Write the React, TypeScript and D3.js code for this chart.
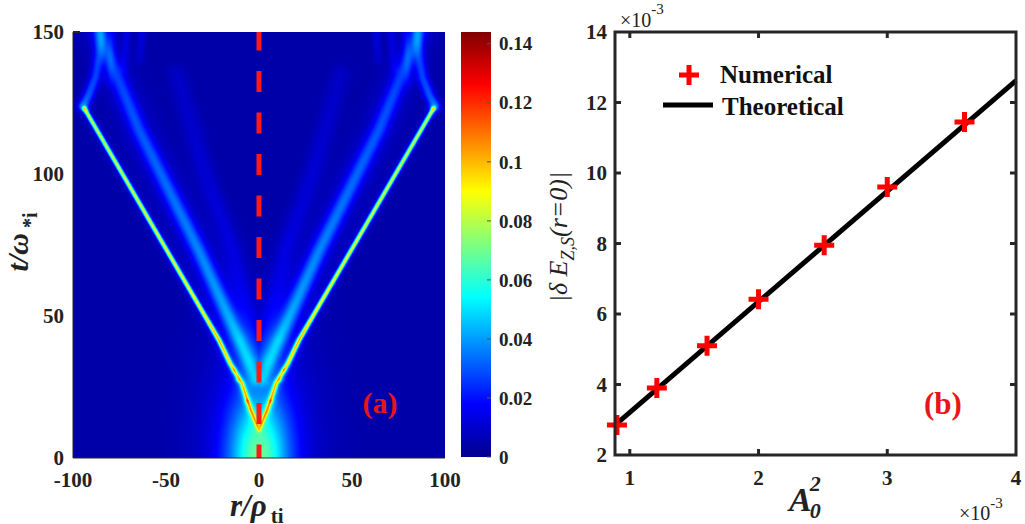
import React, { useMemo } from "react";
import * as d3 from "d3";

const W = 1025;
const H = 524;
const FONT = "'Liberation Serif', 'Times New Roman', serif";

// ---------- Panel (a) data ----------
const rTicks = [-100, -50, 0, 50, 100];
const tTicks = [0, 50, 100, 150];
const cbTicks = [0, 0.02, 0.04, 0.06, 0.08, 0.1, 0.12, 0.14];
const cbMax = 0.144;

// jet colormap stops
const jetPos = [0, 0.125, 0.375, 0.625, 0.875, 1];
const jetColors = ["#00008f", "#0000ff", "#00ffff", "#ffff00", "#ff0000", "#800000"];

// main ridge (right half, mirrored for left) : r, t, amplitude
const ridgeR = [0, 4.5, 9.2, 15.5, 21.5, 93.8];
const ridgeT = [10, 17, 26.3, 33.3, 41.5, 123];
const ridgeAmp = [0.03, 0.05, 0.055, 0.062, 0.078, 0.07];

// thicker lower part of the ridge (halo)
const lowR = [0, 4.5, 9.2, 15.5, 21.5, 30];
const lowT = [10, 17, 26.3, 33.3, 41.5, 51];
const lowAmp = [0.005, 0.01, 0.012, 0.01, 0.005, 0.0];

// secondary (faint, wide) band
const band2R = [2, 10.7, 32.5, 64.5, 86];
const band2T = [28, 41.5, 73.2, 115.5, 150];
const band2Amp = [0.018, 0.028, 0.025, 0.02, 0.016];

// tertiary, very faint band
const band3R = [2, 14, 29, 44];
const band3T = [35, 73, 100, 135];
const band3Amp = [0.007, 0.008, 0.007, 0.005];

// plume after the ridge reaches the boundary
const plumeR = [94.5, 91.5, 88, 86, 85];
const plumeT = [124, 128, 134, 142, 150];
const plumeAmp = [0.03, 0.026, 0.022, 0.018, 0.016];

// faint streaks near the top
const streak1R = [79, 80.5];
const streak1T = [150, 132];
const streak2R = [71, 72.5];
const streak2T = [150, 137];
const streak3R = [63, 64];
const streak3T = [150, 140];
const streakAmp = [0.009, 0.005];

// bright spots (r, t, amp)
const spotR = [0, 6.5, 11.5, 13.5];
const spotT = [12, 20, 27.5, 31];
const spotAmp = [0.008, 0.014, 0.014, 0.012];

// centre glow at the bottom
const glowAmp = 0.05;
const glowSigR = 11;
const glowSigT = 16;
const glow2Amp = 0.016;
const glow2SigR = 20;
const glow2SigT = 30;

// ---------- Panel (b) data ----------
const aTicks = [1, 2, 3, 4];
const eTicks = [2, 4, 6, 8, 10, 12, 14];
const numA = [0.9, 1.21, 1.6, 2.0, 2.51, 3.0, 3.6];
const numE = [2.85, 3.9, 5.1, 6.42, 7.95, 9.6, 11.45];
const theoA = [0.885, 4];
const theoE = [2.85, 12.62];

// ---------- scales ----------
const xA = d3.scaleLinear().domain([-100, 100]).range([73, 445]);
const yA = d3.scaleLinear().domain([0, 150]).range([458, 32]);
const yCb = d3.scaleLinear().domain([0, cbMax]).range([457, 32]);
const xB = d3.scaleLinear().domain([0.885, 4]).range([615, 1016]);
const yB = d3.scaleLinear().domain([2, 14]).range([455, 32]);

const jet = d3
  .scaleLinear<string>()
  .domain(jetPos.map((p) => p * cbMax))
  .range(jetColors)
  .interpolate(d3.interpolateRgb)
  .clamp(true);

type Poly = { xs: number[]; ys: number[]; amps: number[]; sigma: number };

function mkPoly(R: number[], T: number[], amps: number[], sigma: number, scale = 1): Poly {
  return {
    xs: R.map((r) => xA(r)),
    ys: T.map((t) => yA(t)),
    amps: amps.map((a) => a * scale),
    sigma,
  };
}

function polyVal(px: number, py: number, p: Poly): number {
  let best = Infinity;
  let bestAmp = 0;
  for (let i = 0; i < p.xs.length - 1; i++) {
    const ax = p.xs[i], ay = p.ys[i], bx = p.xs[i + 1], by = p.ys[i + 1];
    const dx = bx - ax, dy = by - ay;
    const L2 = dx * dx + dy * dy;
    let u = ((px - ax) * dx + (py - ay) * dy) / L2;
    u = Math.max(0, Math.min(1, u));
    const qx = ax + u * dx - px, qy = ay + u * dy - py;
    const d2 = qx * qx + qy * qy;
    if (d2 < best) {
      best = d2;
      const a0 = p.amps[i], a1 = p.amps[i + 1];
      bestAmp = a0 + u * (a1 - a0);
    }
  }
  return bestAmp * Math.exp(-best / (2 * p.sigma * p.sigma));
}

function buildHeatmap(): string {
  const x0 = Math.round(xA(-100));
  const x1 = Math.round(xA(100));
  const y0 = Math.round(yA(150));
  const y1 = Math.round(yA(0));
  const w = x1 - x0;
  const h = y1 - y0;
  const canvas = document.createElement("canvas");
  canvas.width = w;
  canvas.height = h;
  const ctx = canvas.getContext("2d");
  if (!ctx) return "";
  const img = ctx.createImageData(w, h);
  const xc = xA(0);
  const polys: Poly[] = [
    mkPoly(ridgeR, ridgeT, ridgeAmp, 1.55),
    mkPoly(ridgeR, ridgeT, ridgeAmp, 4, 0.1),
    mkPoly(lowR, lowT, lowAmp, 3),
    mkPoly(band2R, band2T, band2Amp, 5.5),
    mkPoly(band2R, band2T, band2Amp, 13, 0.3),
    mkPoly(band3R, band3T, band3Amp, 7),
    mkPoly(plumeR, plumeT, plumeAmp, 4),
    mkPoly(streak1R, streak1T, streakAmp, 3),
    mkPoly(streak2R, streak2T, streakAmp, 3),
    mkPoly(streak3R, streak3T, streakAmp, 3),
  ];
  const spots = spotR.map((r, i) => ({ x: xA(r), y: yA(spotT[i]), a: spotAmp[i] }));
  const colorCache = new Map<number, [number, number, number]>();
  for (let j = 0; j < h; j++) {
    const py = y0 + j + 0.5;
    const t = yA.invert(py);
    for (let i = 0; i < w; i++) {
      let px = x0 + i + 0.5;
      if (px < xc) px = 2 * xc - px;
      const r = xA.invert(px);
      let v = 0.004;
      for (const p of polys) v += polyVal(px, py, p);
      v += glowAmp * Math.exp(-(r * r) / (2 * glowSigR * glowSigR) - (t * t) / (2 * glowSigT * glowSigT));
      v += glow2Amp * Math.exp(-(r * r) / (2 * glow2SigR * glow2SigR) - (t * t) / (2 * glow2SigT * glow2SigT));
      for (const s of spots) {
        const dx = px - s.x, dy = py - s.y;
        v += s.a * Math.exp(-(dx * dx + dy * dy) / (2 * 1.8 * 1.8));
      }
      const key = Math.round((Math.min(v, cbMax) / cbMax) * 511);
      let c = colorCache.get(key);
      if (!c) {
        const col = d3.rgb(jet((key / 511) * cbMax));
        c = [col.r, col.g, col.b];
        colorCache.set(key, c);
      }
      const k = (j * w + i) * 4;
      img.data[k] = c[0];
      img.data[k + 1] = c[1];
      img.data[k + 2] = c[2];
      img.data[k + 3] = 255;
    }
  }
  ctx.putImageData(img, 0, 0);
  return canvas.toDataURL("image/png");
}

function plusPath(x: number, y: number, s: number) {
  return `M${x - s},${y}H${x + s}M${x},${y - s}V${y + s}`;
}

export default function App() {
  const href = useMemo(() => buildHeatmap(), []);
  const theoLine = d3
    .line<number>()
    .x((_, i) => xB(theoA[i]))
    .y((e) => yB(e))(theoE) as string;

  const red = "#e8141c";
  const axisCol = "#262626";

  return (
    <svg
      width={W}
      height={H}
      viewBox={`0 0 ${W} ${H}`}
      style={{ position: "absolute", left: 0, top: 0, background: "#fff", fontFamily: FONT }}
    >
      <defs>
        <linearGradient id="jetGrad" x1="0" y1="1" x2="0" y2="0">
          {jetPos.map((p, i) => (
            <stop key={i} offset={p} stopColor={jetColors[i]} />
          ))}
        </linearGradient>
      </defs>
      <rect x={0} y={0} width={W} height={H} fill="#fff" />

      {/* ---------- Panel (a) ---------- */}
      <image
        href={href}
        x={xA(-100)}
        y={yA(150)}
        width={xA(100) - xA(-100)}
        height={yA(0) - yA(150)}
        preserveAspectRatio="none"
      />
      <line
        x1={xA(0)}
        x2={xA(0)}
        y1={yA(150)}
        y2={yA(0)}
        stroke="#ff1a1a"
        strokeWidth={5}
        strokeDasharray="21 20.5"
        strokeDashoffset={2.5}
      />
      <line x1={xA(-100)} x2={xA(-100)} y1={yA(0)} y2={yA(150)} stroke={axisCol} strokeWidth={1} />
      <line x1={xA(-100)} x2={xA(100)} y1={yA(0)} y2={yA(0)} stroke={axisCol} strokeWidth={1} />
      <line x1={xA(-100)} x2={xA(-100) + 7} y1={yA(150)} y2={yA(150)} stroke={axisCol} strokeWidth={2} />
      {tTicks.map((t) => (
        <text
          key={t}
          x={64}
          y={yA(t)}
          dy="0.35em"
          textAnchor="end"
          fontSize={21}
          fontWeight="bold"
          fill="#222"
        >
          {t}
        </text>
      ))}
      {rTicks.map((r) => (
        <text key={r} x={xA(r)} y={487} textAnchor="middle" fontSize={21} fontWeight="bold" fill="#222">
          {r}
        </text>
      ))}
      <text x={230} y={516} fontSize={31} fontWeight="bold" fill="#222">
        <tspan fontStyle="italic">r/ρ</tspan>
        <tspan fontSize={21} dx={4} dy={7}>ti</tspan>
      </text>
      <text
        transform="translate(28,242) rotate(-90)"
        textAnchor="middle"
        fontSize={30}
        fontWeight="bold"
        fill="#222"
      >
        <tspan fontStyle="italic">t/ω</tspan>
        <tspan fontSize={20} dx={5} dy={9}>*i</tspan>
      </text>
      <text x={380} y={413} textAnchor="middle" fontSize={30} fontWeight="bold" fill={red}>
        (a)
      </text>

      {/* colorbar */}
      <rect x={461} y={yCb(cbMax)} width={30} height={yCb(0) - yCb(cbMax)} fill="url(#jetGrad)" />
      {cbTicks.map((v) => (
        <g key={v}>
          <line x1={487} x2={491} y1={yCb(v)} y2={yCb(v)} stroke="#555" strokeWidth={1} />
          <text x={499} y={yCb(v)} dy="0.35em" fontSize={19} fontWeight="bold" fill="#222">
            {v}
          </text>
        </g>
      ))}

      {/* ---------- Panel (b) ---------- */}
      <text
        transform="translate(567,237) rotate(-90)"
        textAnchor="middle"
        fontSize={26}
        fontStyle="italic"
        fill="#222"
      >
        <tspan>|δ E</tspan>
        <tspan fontSize={18} dy={7}>Z,S</tspan>
        <tspan dy={-7}>(r=0)|</tspan>
      </text>

      <path d={theoLine} fill="none" stroke="#000" strokeWidth={5} />
      {numA.map((a, i) => (
        <path key={i} d={plusPath(xB(a), yB(numE[i]), 10)} stroke="#ff0000" strokeWidth={5} fill="none" />
      ))}

      <rect
        x={xB(0.885)}
        y={yB(14)}
        width={xB(4) - xB(0.885)}
        height={yB(2) - yB(14)}
        fill="none"
        stroke={axisCol}
        strokeWidth={3}
      />
      {aTicks
        .filter((a) => a < 4)
        .map((a) => (
          <g key={a}>
            <line x1={xB(a)} x2={xB(a)} y1={yB(2)} y2={yB(2) - 6} stroke={axisCol} strokeWidth={3} />
            <line x1={xB(a)} x2={xB(a)} y1={yB(14)} y2={yB(14) + 6} stroke={axisCol} strokeWidth={3} />
          </g>
        ))}
      {eTicks
        .filter((e) => e > 2 && e < 14)
        .map((e) => (
          <g key={e}>
            <line x1={xB(0.885)} x2={xB(0.885) + 6} y1={yB(e)} y2={yB(e)} stroke={axisCol} strokeWidth={3} />
            <line x1={xB(4)} x2={xB(4) - 6} y1={yB(e)} y2={yB(e)} stroke={axisCol} strokeWidth={3} />
          </g>
        ))}
      {aTicks.map((a) => (
        <text key={a} x={xB(a)} y={485} textAnchor="middle" fontSize={21} fontWeight="bold" fill="#222">
          {a}
        </text>
      ))}
      {eTicks.map((e) => (
        <text
          key={e}
          x={607}
          y={yB(e)}
          dy="0.35em"
          textAnchor="end"
          fontSize={21}
          fontWeight="bold"
          fill="#222"
        >
          {e}
        </text>
      ))}
      <text x={620} y={27} fontSize={20} fill="#222">
        ×10<tspan fontSize={15} dy={-13}>-3</tspan>
      </text>
      <text x={959} y={520} fontSize={20} fill="#222">
        ×10<tspan fontSize={15} dy={-12}>-3</tspan>
      </text>
      <text x={789} y={511} fontSize={34} fontWeight="bold" fontStyle="italic" fill="#222">
        A
        <tspan fontSize={22} dx={-2} dy={7}>0</tspan>
        <tspan fontSize={22} dx={-11} dy={-27}>2</tspan>
      </text>
      <text x={943} y={414} textAnchor="middle" fontSize={31} fontWeight="bold" fill={red}>
        (b)
      </text>

      {/* legend */}
      <path d={plusPath(689, 75, 10)} stroke="#ff0000" strokeWidth={5} fill="none" />
      <text x={720} y={83} fontSize={25} fontWeight="bold" fill="#111">
        Numerical
      </text>
      <line x1={663} x2={713} y1={105} y2={105} stroke="#000" strokeWidth={5} />
      <text x={722} y={115} fontSize={25} fontWeight="bold" fill="#111">
        Theoretical
      </text>
    </svg>
  );
}
